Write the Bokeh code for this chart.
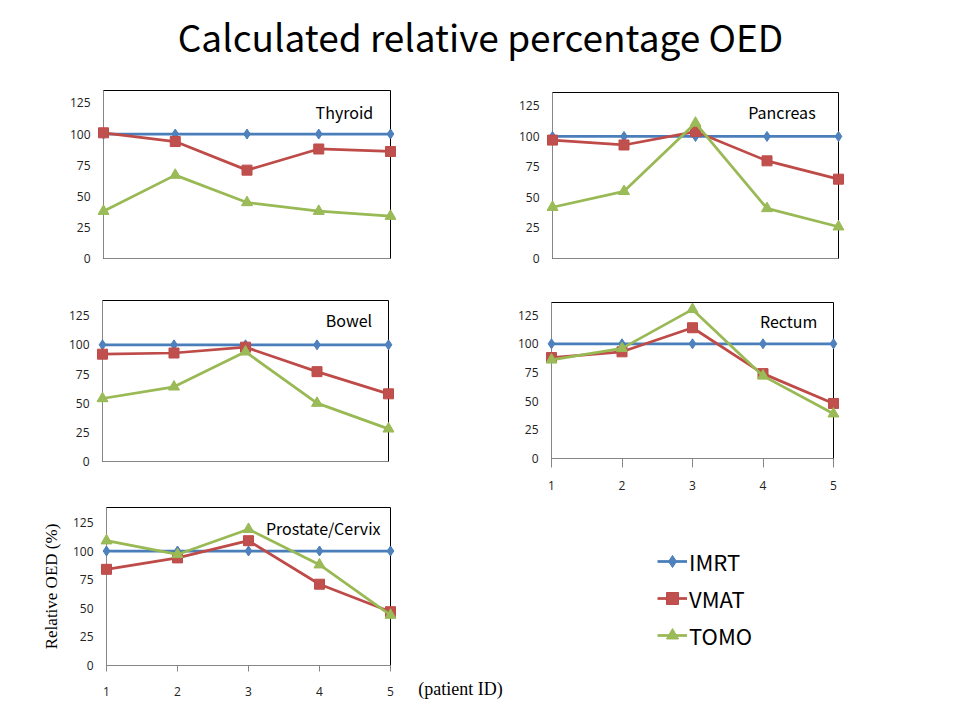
from bokeh.plotting import figure
from bokeh.layouts import column, row
from bokeh.models import Range1d, FixedTicker, Label, Legend, LegendItem
from bokeh.embed import file_html
from bokeh.resources import INLINE
from bokeh.core.validation import silence
from bokeh.core.validation.warnings import MISSING_RENDERERS

silence(MISSING_RENDERERS, True)

# ---------------- data ----------------
patients = [1, 2, 3, 4, 5]
y_ticks = [0, 25, 50, 75, 100, 125]
series_names = ["IMRT", "VMAT", "TOMO"]

thyroid_imrt = [100, 100, 100, 100, 100]
thyroid_vmat = [101, 94, 71, 88, 86]
thyroid_tomo = [38, 67, 45, 38, 34]

pancreas_imrt = [100, 100, 100, 100, 100]
pancreas_vmat = [97, 93, 104, 80, 65]
pancreas_tomo = [42, 55, 111, 41, 26]

bowel_imrt = [100, 100, 100, 100, 100]
bowel_vmat = [92, 93, 98, 77, 58]
bowel_tomo = [54, 64, 94, 50, 28]

rectum_imrt = [100, 100, 100, 100, 100]
rectum_vmat = [88, 93, 114, 74, 48]
rectum_tomo = [86, 96, 130, 72, 39]

prostate_imrt = [100, 100, 100, 100, 100]
prostate_vmat = [84, 94, 109, 71, 47]
prostate_tomo = [109, 97, 119, 88, 44]

# ---------------- styles ----------------
LINE_COL = {"IMRT": "#4A7EBB", "VMAT": "#BE4B48", "TOMO": "#98B954"}
FILL_COL = {"IMRT": "#4F81BD", "VMAT": "#C0504D", "TOMO": "#9BBB59"}
MARKER = {"IMRT": "diamond", "VMAT": "square", "TOMO": "triangle"}
MSIZE = {"IMRT": 10, "VMAT": 10, "TOMO": 11}
LABEL_FONT = "Noto Sans CJK KR"
TICK_FONT = "Open Sans"
PAD_X = 6


def make_panel(name, series, fx0, fy0, w, h, ftop, fbot, L, R, T, B, ymax,
               show_x, lab_x, lab_y, ylabel=None, x_standoff=11):
    """(L, R, T, B): page pixels of the plot-area box; (ftop, fbot): the
    row's shared frame edges."""
    xmin, xmax = min(patients), max(patients)
    sx = (R - L) / (xmax - xmin)
    sy = (B - T) / ymax
    p = figure(width=w, height=h, title=None,
               x_range=Range1d(xmin - PAD_X / sx, xmax + PAD_X / sx),
               y_range=Range1d(-(fbot - B) / sy, ymax + (T - ftop) / sy),
               toolbar_location=None, output_backend="svg",
               x_axis_location="below" if show_x else None,
               min_border_left=L - PAD_X - fx0,
               min_border_right=fx0 + w - R - PAD_X,
               min_border_top=ftop - fy0,
               min_border_bottom=fy0 + h - fbot)
    p.outline_line_color = None
    p.grid.visible = False

    # plot-area box (black) and axis lines (gray)
    p.quad(left=[xmin], right=[xmax], bottom=[0], top=[ymax],
           fill_color=None, line_color="#000000", line_width=1)
    p.segment(x0=[xmin, xmin], y0=[0, 0], x1=[xmin, xmax], y1=[ymax, 0],
              line_color="#868686", line_width=1)

    for s in series_names:
        vals = series[s]
        p.line(patients, vals, line_color=LINE_COL[s], line_width=2.75,
               line_join="round")
        p.scatter(patients, vals, marker=MARKER[s], size=MSIZE[s],
                  fill_color=FILL_COL[s], line_color=LINE_COL[s],
                  line_width=1)

    ya = p.yaxis[0]
    ya.ticker = FixedTicker(ticks=y_ticks)
    ya.axis_line_color = None
    ya.major_tick_out = 0
    ya.major_tick_in = 0
    ya.minor_tick_out = 0
    ya.major_label_standoff = 7
    ya.major_label_text_font = TICK_FONT
    ya.major_label_text_font_size = "12px"
    ya.major_label_text_color = "#222222"
    if ylabel:
        ya.axis_label = ylabel
        ya.axis_label_text_font = "Liberation Serif"
        ya.axis_label_text_font_size = "17px"
        ya.axis_label_text_font_style = "normal"
        ya.axis_label_text_color = "#000000"
        ya.axis_label_standoff = 9

    if show_x:
        xa = p.xaxis[0]
        xa.ticker = FixedTicker(ticks=patients)
        xa.axis_line_color = None
        xa.major_tick_out = 4
        xa.major_tick_in = fbot - B
        xa.minor_tick_out = 0
        xa.major_tick_line_color = "#868686"
        xa.major_label_standoff = x_standoff
        xa.major_label_text_font = TICK_FONT
        xa.major_label_text_font_size = "12px"
        xa.major_label_text_color = "#222222"

    p.add_layout(Label(x=lab_x, y=lab_y, text=name, text_align="right",
                       text_baseline="middle", text_font=LABEL_FONT,
                       text_font_size="16px", text_color="#000000"))
    return p


# row 1 : page y 70..282, shared frame 88..260
p_thy = make_panel("Thyroid", {"IMRT": thyroid_imrt, "VMAT": thyroid_vmat, "TOMO": thyroid_tomo},
                   0, 70, 480, 212, 88, 260, 103, 390, 90, 258, 135, False, 4.76, 118)
p_pan = make_panel("Pancreas", {"IMRT": pancreas_imrt, "VMAT": pancreas_vmat, "TOMO": pancreas_tomo},
                   480, 70, 480, 212, 88, 260, 552, 838, 92, 258, 136, False, 4.68, 120)
# row 2 : page y 282..497, shared frame 298..463
p_bow = make_panel("Bowel", {"IMRT": bowel_imrt, "VMAT": bowel_vmat, "TOMO": bowel_tomo},
                   0, 282, 480, 215, 298, 463, 102, 388, 300, 461, 138, False, 4.77, 121)
p_rec = make_panel("Rectum", {"IMRT": rectum_imrt, "VMAT": rectum_vmat, "TOMO": rectum_tomo},
                   480, 282, 480, 215, 298, 463, 551, 833, 302, 458, 136, True, 4.77, 120,
                   x_standoff=13)
# row 3 : page y 497..720, shared frame 505..667
p_pro = make_panel("Prostate/Cervix", {"IMRT": prostate_imrt, "VMAT": prostate_vmat, "TOMO": prostate_tomo},
                   0, 497, 400, 223, 505, 667, 106, 390, 507, 665, 138, True, 4.86, 120,
                   ylabel="Relative OED (%)", x_standoff=15)

# ---------------- title ----------------
p_title = figure(width=960, height=70, title=None, x_range=Range1d(0, 960),
                 y_range=Range1d(0, 70), toolbar_location=None,
                 output_backend="svg", x_axis_location=None,
                 y_axis_location=None, min_border=0)
p_title.outline_line_color = None
p_title.grid.visible = False
p_title.add_layout(Label(x=480, y=34.5, text="Calculated relative percentage OED",
                         text_align="center", text_baseline="middle",
                         text_font=LABEL_FONT, text_font_size="37px",
                         text_color="#000000"))

# ---------------- x-axis caption "(patient ID)" ----------------
p_cap = figure(width=120, height=223, title=None, x_range=Range1d(0, 1),
               y_range=Range1d(0, 1), toolbar_location=None,
               output_backend="svg", y_axis_location=None,
               min_border_left=0, min_border_right=0,
               min_border_top=8, min_border_bottom=53)
p_cap.outline_line_color = None
p_cap.grid.visible = False
ca = p_cap.xaxis[0]
ca.ticker = FixedTicker(ticks=[])
ca.axis_line_color = None
ca.major_tick_out = 0
ca.major_tick_in = 0
ca.minor_tick_out = 0
ca.major_label_standoff = 0
ca.axis_label = "(patient ID)"
ca.axis_label_text_font = "Liberation Serif"
ca.axis_label_text_font_size = "18px"
ca.axis_label_text_font_style = "normal"
ca.axis_label_text_color = "#000000"
ca.axis_label_standoff = 11

# ---------------- legend ----------------
p_leg = figure(width=440, height=223, title=None, x_range=Range1d(20, 21),
               y_range=Range1d(0, 1), toolbar_location=None,
               output_backend="svg", x_axis_location=None,
               y_axis_location=None, min_border_left=97, min_border_top=8,
               min_border_right=0, min_border_bottom=53)
p_leg.outline_line_color = None
p_leg.grid.visible = False
legend_series = {"IMRT": prostate_imrt, "VMAT": prostate_vmat, "TOMO": prostate_tomo}
items = []
for s in series_names:
    lr = p_leg.line(patients, legend_series[s], line_color=LINE_COL[s], line_width=2.75)
    sr = p_leg.scatter(patients, legend_series[s], marker=MARKER[s], size=MSIZE[s],
                       fill_color=FILL_COL[s], line_color=LINE_COL[s])
    items.append(LegendItem(label=s, renderers=[lr, sr]))
legend = Legend(items=items, location="top_left", orientation="vertical",
                border_line_color=None, background_fill_alpha=0,
                padding=0, margin=40, spacing=5, glyph_width=30,
                glyph_height=32, label_height=32, label_standoff=2,
                label_text_font=LABEL_FONT, label_text_font_size="22px",
                label_text_color="#000000")
p_leg.add_layout(legend)

layout = column(p_title, row(p_thy, p_pan), row(p_bow, p_rec),
                row(p_pro, p_cap, p_leg))

open("out.html", "w").write(file_html(layout, INLINE))
